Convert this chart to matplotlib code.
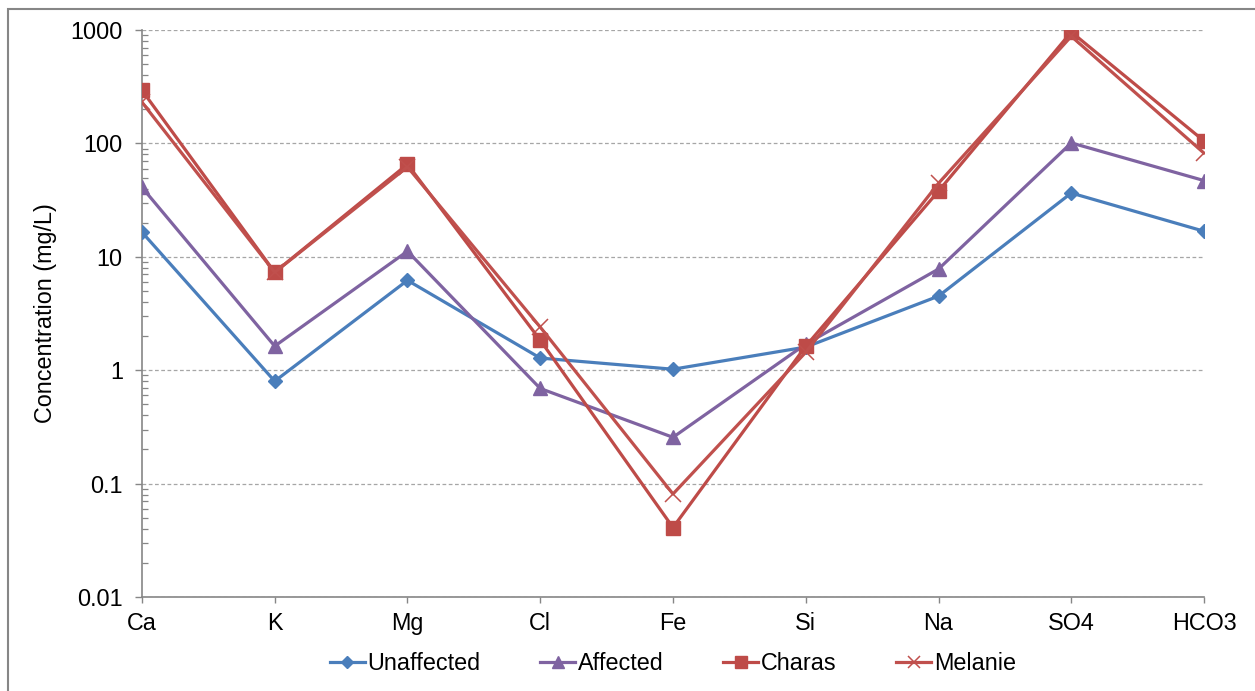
import matplotlib.pyplot as plt
from matplotlib.patches import Rectangle
from matplotlib.ticker import LogLocator, NullFormatter, FixedLocator

plt.rcParams['font.family'] = ['Liberation Sans', 'DejaVu Sans']

# Concentrations par élément (mg/L)
elements = ['Ca', 'K', 'Mg', 'Cl', 'Fe', 'Si', 'Na', 'SO4', 'HCO3']
unaffected = [16.5, 0.80, 6.2, 1.28, 1.02, 1.6, 4.5, 36.5, 16.8]
affected = [41, 1.63, 11.2, 0.69, 0.256, 1.7, 7.8, 101, 47]
charas = [294, 7.3, 65.5, 1.84, 0.041, 1.63, 38, 960, 105]
melanie = [231, 7.3, 62, 2.4, 0.081, 1.44, 44.5, 880, 82]

gris = '#868686'
fs = 16.8

fig = plt.figure(figsize=(12.55, 6.91), dpi=100)
ax = fig.add_axes([0.1131, 0.136, 0.8463, 0.8206])

x = range(len(elements))
ax.plot(x, unaffected, color='#4A7EBB', lw=2.3, marker='D', ms=7.2, label='Unaffected', zorder=3)
ax.plot(x, affected, color='#7F63A1', lw=2.3, marker='^', ms=10, label='Affected', zorder=3)
ax.plot(x, charas, color='#BE4B48', lw=2.3, marker='s', ms=10, label='Charas', zorder=3)
ax.plot(x, melanie, color='#C0504D', lw=2.3, marker='x', ms=11, mew=1.1, label='Melanie', zorder=4)

ax.set_yscale('log')
ax.set_ylim(0.01, 1000)
ax.set_xlim(0, len(elements) - 1)
ax.yaxis.set_major_locator(FixedLocator([0.01, 0.1, 1, 10, 100, 1000]))
ax.set_yticklabels(['0.01', '0.1', '1', '10', '100', '1000'])
ax.yaxis.set_minor_locator(LogLocator(base=10, subs=range(2, 10), numticks=20))
ax.yaxis.set_minor_formatter(NullFormatter())
ax.set_xticks(list(x))
ax.set_xticklabels(elements)

ax.grid(axis='y', which='major', color='#A6A6A6', ls=(0, (3, 2)), lw=0.9)
ax.set_axisbelow(True)
for s in ['top', 'right']:
    ax.spines[s].set_visible(False)
for s in ['left', 'bottom']:
    ax.spines[s].set_color(gris)
    ax.spines[s].set_linewidth(1.2)

ax.tick_params(axis='y', which='major', direction='out', length=5.3, color=gris, width=1,
               labelsize=fs, pad=8.5)
ax.tick_params(axis='y', which='minor', direction='in', length=4.5, color=gris, width=0.9)
ax.tick_params(axis='x', which='major', direction='out', length=4.5, color=gris, width=1,
               labelsize=fs, pad=6.5)
ax.set_ylabel('Concentration (mg/L)', fontsize=fs, labelpad=10)

ax.legend(loc='center', bbox_to_anchor=(0.5, -0.118), ncol=4, frameon=False,
          fontsize=fs, handlelength=1.5, handletextpad=0.12, columnspacing=2.55,
          markerscale=0.8)

# Cadre du graphique
fig.patches.append(Rectangle((0.0064, -0.1), 1.1, 1.087, transform=fig.transFigure,
                             fill=False, edgecolor=gris, lw=1.5, clip_on=False))

fig.savefig('out.png', dpi=100)
